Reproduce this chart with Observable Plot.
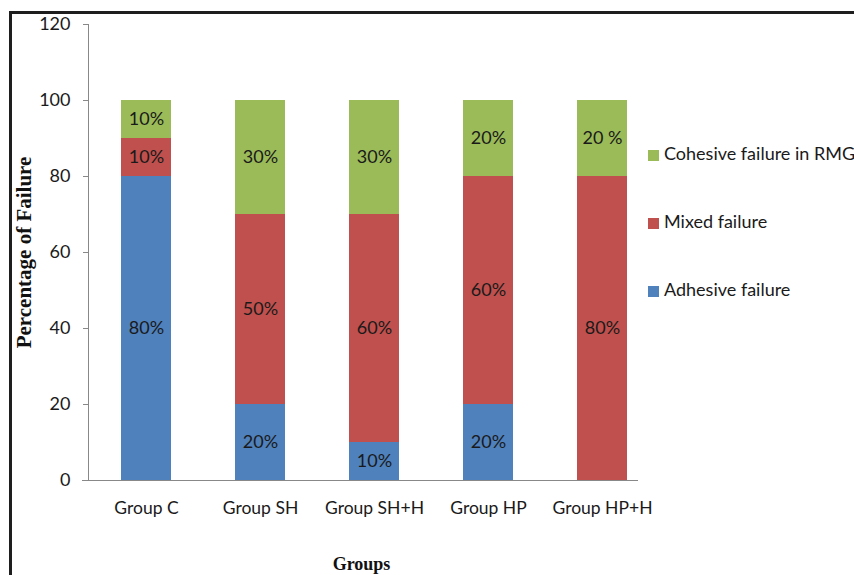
<!DOCTYPE html>
<html>
<head>
<meta charset="utf-8">
<script src="https://cdn.jsdelivr.net/npm/d3@7"></script>
<script src="https://cdn.jsdelivr.net/npm/@observablehq/plot@0.6"></script>
<style>
  html, body { margin: 0; padding: 0; background: #fff; overflow: hidden; width: 854px; height: 575px; }
  #wrap { position: relative; width: 854px; height: 575px; overflow: hidden; }
  #border { position: absolute; left: 9px; top: 11px; width: 900px; height: 700px; border: 3px solid #1e1e1e; box-sizing: border-box; pointer-events: none; }
  #chart { position: absolute; left: 0; top: 0; }
  .leg { position: absolute; left: 648px; font-family: Lato, sans-serif; font-size: 18px; color: #1a1a1a; white-space: nowrap; height: 20px; line-height: 20px; }
  .leg span.sw { display: inline-block; width: 11px; height: 11px; margin-right: 5px; vertical-align: -1px; }
</style>
</head>
<body>
<div id="wrap">
  <div id="chart"></div>
  <div id="legend"></div>
  <div id="border"></div>
</div>
<script>
const groups = ["Group C", "Group SH", "Group SH+H", "Group HP", "Group HP+H"];
const seriesNames = ["Adhesive failure", "Mixed failure", "Cohesive failure in RMG"];
const seriesColors = ["#4F81BD", "#C0504D", "#9BBB59"];
const adhesive = [80, 20, 10, 20, 0];
const mixed = [10, 50, 60, 60, 80];
const cohesive = [10, 30, 30, 20, 20];
const adhesiveLabels = ["80%", "20%", "10%", "20%", ""];
const mixedLabels = ["10%", "50%", "60%", "60%", "80%"];
const cohesiveLabels = ["10%", "30%", "30%", "20%", "20 %"];
const yTicks = [0, 20, 40, 60, 80, 100, 120];

const values = [adhesive, mixed, cohesive];
const labels = [adhesiveLabels, mixedLabels, cohesiveLabels];
const data = [];
seriesNames.forEach((s, si) => {
  groups.forEach((g, gi) => {
    data.push({group: g, series: s, order: si, value: values[si][gi], label: labels[si][gi]});
  });
});

const W = 854, H = 575;
const chart = Plot.plot({
  width: W,
  height: H,
  marginLeft: 88,
  marginRight: 194,
  marginTop: 24,
  marginBottom: 95,
  style: {fontFamily: "Lato, sans-serif", fontSize: "18px", color: "#1a1a1a", background: "#fff"},
  x: {domain: groups, paddingInner: 0.563, paddingOuter: 0.282, label: null},
  y: {domain: [0, 120], label: null},
  color: {domain: seriesNames, range: seriesColors},
  marks: [
    Plot.barY(data, {x: "group", y: "value", fill: "series", order: seriesNames}),
    Plot.text(data.filter(d => d.value > 0), Plot.stackY({x: "group", y: "value", z: "series", order: seriesNames, text: "label", fill: "#1a1a1a", fontSize: 18})),
    Plot.frame({anchor: "left", stroke: "#888"}),
    Plot.ruleY([0], {stroke: "#888", insetLeft: -6, insetRight: 22}),
    Plot.axisY({ticks: yTicks, tickSize: 5, tickPadding: 13, stroke: "#888", fill: "#1a1a1a", fontSize: 18, label: null}),
    Plot.axisX({tickSize: 0, tickPadding: 21, fill: "#1a1a1a", fontSize: 17.5, label: null}),
    Plot.text(["Percentage of Failure"], {frameAnchor: "left", dx: -64, rotate: -90, textAnchor: "middle", fontFamily: "'Liberation Serif', 'Times New Roman', serif", fontWeight: "bold", fontSize: 21, fill: "#111", lineAnchor: "middle"}),
    Plot.text(["Groups"], {frameAnchor: "bottom", dx: -13, dy: 84, textAnchor: "middle", fontFamily: "'Liberation Serif', 'Times New Roman', serif", fontWeight: "bold", fontSize: 18, fill: "#111", lineAnchor: "middle"})
  ]
});
document.getElementById("chart").appendChild(chart);

const legendOrder = [2, 1, 0];
const legendY = [153, 221, 289];
const leg = document.getElementById("legend");
legendOrder.forEach((si, i) => {
  const d = document.createElement("div");
  d.className = "leg";
  d.style.top = (legendY[i] - 10) + "px";
  d.innerHTML = `<span class="sw" style="background:${seriesColors[si]}"></span>${seriesNames[si]}`;
  leg.appendChild(d);
});
</script>
</body>
</html>
